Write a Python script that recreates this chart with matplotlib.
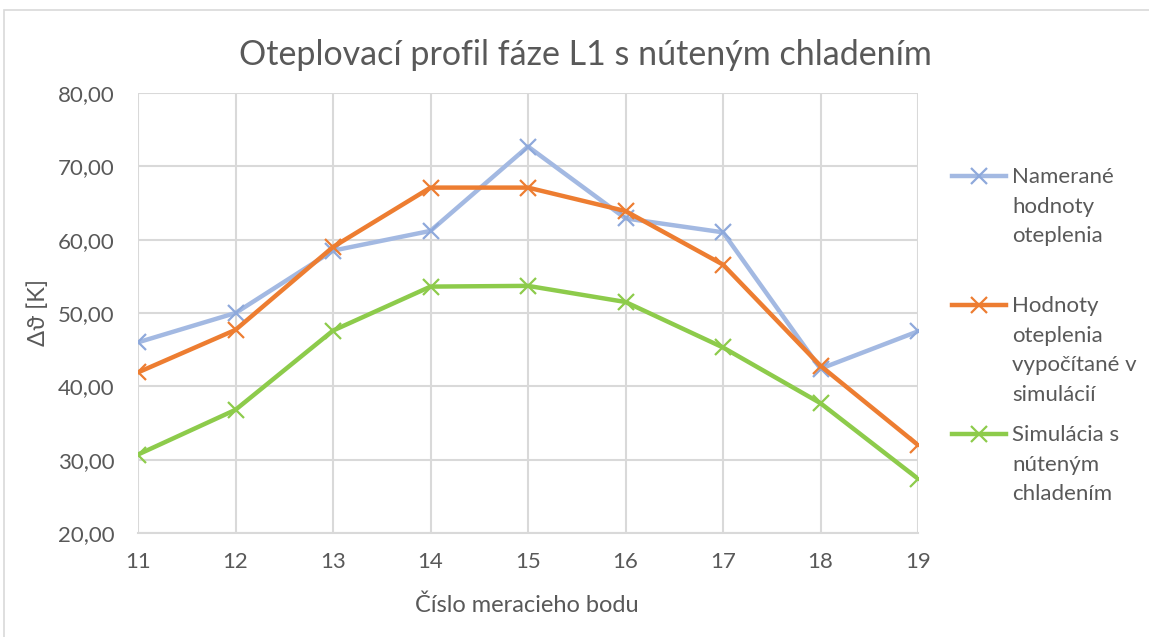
import matplotlib
matplotlib.use("Agg")
import matplotlib.pyplot as plt
from matplotlib.lines import Line2D
from matplotlib.patches import Rectangle

plt.rcParams['font.family'] = ['Lato', 'DejaVu Sans']

points = [11, 12, 13, 14, 15, 16, 17, 18, 19]
measured = [46.0, 50.0, 58.5, 61.2, 72.7, 62.9, 61.0, 42.4, 47.5]
calculated = [41.9, 47.7, 59.0, 67.1, 67.1, 63.9, 56.6, 42.8, 32.0]
forced = [30.7, 36.8, 47.6, 53.6, 53.7, 51.5, 45.3, 37.7, 27.4]
labels = ["Namerané\nhodnoty\noteplenia",
          "Hodnoty\noteplenia\nvypočítané v\nsimulácií",
          "Simulácia s\nnúteným\nchladením"]
yticks = [20, 30, 40, 50, 60, 70, 80]

W, H = 1149, 637
fig = plt.figure(figsize=(W / 100, H / 100), dpi=100)
ax = fig.add_axes([138 / W, 1 - 533 / H, (918 - 138) / W, (533 - 93) / H])

txt = '#595959'
grid = '#D9D9D9'
colors = ['#A3B9E2', '#ED7D31', '#8DCB4B']
mcolors = ['#8EA9DB', '#ED7D31', '#8DCB4B']
series = [measured, calculated, forced]

for ys, c, mc in zip(series, colors, mcolors):
    ax.plot(points, ys, color=c, lw=3.2, marker='x', markersize=11,
            markeredgewidth=1.6, markeredgecolor=mc, solid_capstyle='round',
            solid_joinstyle='round', zorder=3)

ax.set_xlim(11, 19)
ax.set_ylim(20, 80)
ax.set_xticks(points)
ax.set_xticklabels([str(p) for p in points])
ax.set_yticks(yticks)
ax.set_yticklabels([f"{v:.2f}".replace('.', ',') for v in yticks])
ax.grid(True, color=grid, lw=1.5)
ax.set_axisbelow(True)
for s in ['top', 'right', 'left']:
    ax.spines[s].set_visible(False)
ax.spines['bottom'].set_color(grid)
ax.spines['bottom'].set_linewidth(1.5)
ax.tick_params(axis='both', length=0, labelsize=16, colors=txt)
ax.tick_params(axis='x', pad=14)
ax.tick_params(axis='y', pad=17)
for lab in ax.get_xticklabels() + ax.get_yticklabels():
    lab.set_color(txt)

fig.text(585 / W, 1 - 55 / H, "Oteplovací profil fáze L1 s núteným chladením",
         ha='center', va='center', fontsize=24.5, color=txt)
fig.text(527 / W, 1 - 605 / H, "Číslo meracieho bodu", ha='center', va='center',
         fontsize=17, color=txt)
fig.text(38 / W, 1 - 313 / H, "Δϑ [K]", ha='center', va='center', rotation=90,
         fontsize=17, color=txt)

# legend (manual)
first_line_y = [176, 305, 434]
for lbl, y0, c, mc in zip(labels, first_line_y, colors, mcolors):
    yf = 1 - y0 / H
    fig.add_artist(Line2D([952 / W, 1006 / W], [yf, yf], color=c, lw=3.2,
                          transform=fig.transFigure))
    fig.add_artist(Line2D([979 / W], [yf], color=c, marker='x', markersize=11,
                          markeredgewidth=1.6, markeredgecolor=mc,
                          transform=fig.transFigure))
    fig.text(1012 / W, 1 - (y0 - 9) / H, lbl, ha='left', va='top',
             fontsize=16, color=txt, linespacing=1.6)

fig.add_artist(Rectangle((4 / W, -0.1), 1.2, 1 - 10 / H + 0.1,
                         transform=fig.transFigure, fill=False,
                         edgecolor='#D9D9D9', lw=1.2))

fig.savefig("out.png", dpi=100, facecolor='white')
